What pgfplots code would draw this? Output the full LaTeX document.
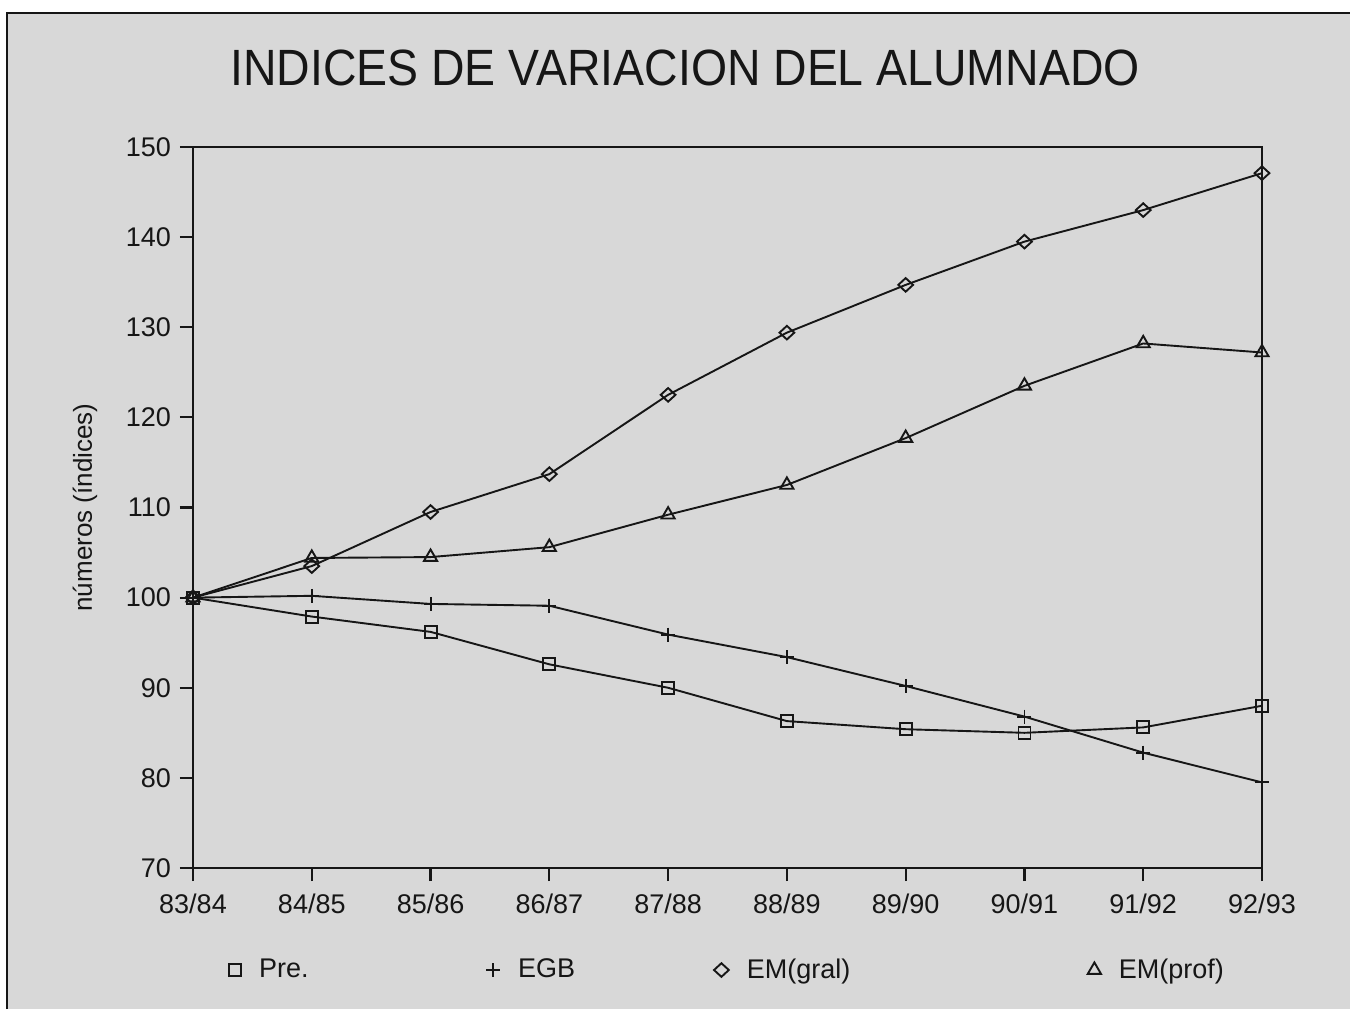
\documentclass[border=0pt]{standalone}
\usepackage{pgfplots}
\pgfplotsset{compat=1.18}
\usepackage{fontspec}
\setmainfont{Liberation Sans}
\definecolor{bg}{RGB}{216,216,216}
\definecolor{ink}{RGB}{22,22,22}
\begin{document}
\begin{tikzpicture}
\useasboundingbox (0,0) rectangle (675pt,504.5pt);
\fill[bg] (3.5pt,0) rectangle (675pt,498pt);
\draw[ink, line width=1pt] (3.5pt,0) -- (3.5pt,498pt) -- (675pt,498pt);
\node[ink, font=\fontsize{25.5}{30}\selectfont] at (342.5pt,470.5pt) {\scalebox{0.91}[1]{INDICES DE VARIACION DEL ALUMNADO}};
\begin{axis}[
  at={(96.5pt,70.5pt)}, anchor=south west,
  scale only axis, width=534.5pt, height=360.5pt,
  xmin=0, xmax=9, ymin=70, ymax=150,
  xtick={0,...,9},
  xticklabels={83/84,84/85,85/86,86/87,87/88,88/89,89/90,90/91,91/92,92/93},
  ytick={70,80,...,150},
  tick align=outside, xtick pos=bottom, ytick pos=left,
  major tick length=6.5pt,
  axis line style={ink, line width=1.1pt},
  every tick/.style={ink, line width=1.1pt},
  tick label style={ink, font=\fontsize{13.5}{16}\selectfont},
  xticklabel style={yshift=-3pt},
  yticklabel style={xshift=-1pt},
  /pgf/number format/assume math mode=true,
  ylabel={números (índices)},
  ylabel style={ink, font=\fontsize{13}{15}\selectfont, at={(axis description cs:-0.101,0.5)}, anchor=center},
  legend style={at={(0.0337,-0.1415)}, anchor=west, draw=none, fill=none, inner sep=0pt, outer sep=0pt,
    font=\fontsize{13.5}{16}\selectfont, text=ink,
    column sep=0pt, /tikz/every odd column/.append style={column sep=9pt},
    nodes={inner sep=0pt}},
  legend columns=4,
  legend image code/.code={\draw[#1] plot coordinates {(0cm,0cm)};},
  every axis plot/.append style={ink, line width=0.95pt, mark options={solid, line width=0.95pt}},
]
\addplot[mark=square, mark size=3pt] coordinates {
(0,100) (1,97.9) (2,96.2) (3,92.6) (4,90.0) (5,86.3) (6,85.4) (7,85.0) (8,85.6) (9,88.0)};
\addlegendentry{\makebox[113.5pt][l]{Pre.}}
\addplot[mark=+, mark size=3.5pt] coordinates {
(0,100) (1,100.2) (2,99.3) (3,99.1) (4,95.9) (5,93.4) (6,90.2) (7,86.8) (8,82.8) (9,79.5)};
\addlegendentry{\makebox[98pt][l]{EGB}}
\addplot[mark=diamond, mark size=3.4pt, mark options={xscale=1.45}] coordinates {
(0,100) (1,103.5) (2,109.5) (3,113.7) (4,122.5) (5,129.4) (6,134.7) (7,139.5) (8,143.0) (9,147.1)};
\addlegendentry{\makebox[170.5pt][l]{EM(gral)}}
\addplot[mark=triangle, mark size=3.8pt] coordinates {
(0,100) (1,104.4) (2,104.5) (3,105.6) (4,109.2) (5,112.5) (6,117.7) (7,123.5) (8,128.2) (9,127.2)};
\addlegendentry{EM(prof)}
\end{axis}
\end{tikzpicture}
\end{document}
